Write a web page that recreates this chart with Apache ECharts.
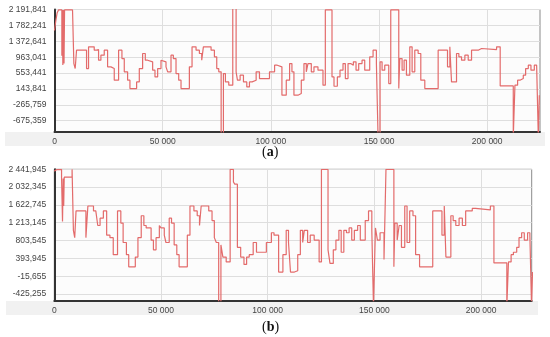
<!DOCTYPE html>
<html>
<head>
<meta charset="utf-8">
<script src="https://cdn.jsdelivr.net/npm/echarts@6/dist/echarts.min.js"></script>
<style>
html,body{margin:0;padding:0;background:#fff;}
#c{width:550px;height:337px;}
</style>
</head>
<body>
<div id="c"></div>
<script>
// shared change points (x) of the step signal
const xs = [0,600,1200,1852,3400,3650,3850,4150,4400,4650,8332,8949,9567,10184,14813,15739,18362,19442,20368,21448,22991,24534,26077,27620,29626,31169,32249,33792,34872,37958,39192,40735,41970,43050,45364,46444,47679,49222,49993,51536,52308,53851,54931,56165,57400,58480,62337,63572,65423,66966,68046,68818,72367,73910,74990,75916,77026,78076,79002,80545,82396,83939,84556,85791,87334,88877,90111,91346,93197,94740,96283,99369,101721,102955,105116,107122,108664,109744,110670,112522,114065,115299,116380,117151,118694,119928,121780,124095,125175,128261,129187,130730,131963,133352,134432,135667,136901,138136,139370,140604,142147,143382,145696,147240,148782,149554,150480,151405,152640,154491,155417,159120,159583,160663,161589,162669,164212,165292,166527,168070,169304,171156,177328,181648,182728,183500,185815,186895,188129,189672,191215,192758,195844,197387,204331,206000,212046,212817,214051,215132,216675,217755,218989,220223,221766,222846,223618,224081];
// panel (a) levels
const valuesA = [1650,1900,2100,2180,1000,2180,760,2180,800,2180,2130,799,670,1143,670,1229,1143,1160,885,1014,1143,713,670,369,1143,928,584,369,154,326,670,1057,885,842,627,455,670,885,842,713,584,1014,928,541,369,154,713,1229,1143,1057,885,1229,1143,971,670,584,-1100,541,326,240,2300,584,369,498,326,197,326,369,584,412,412,584,756,713,-18,369,799,584,-18,25,369,799,584,799,584,713,627,240,2180,455,214,455,627,799,412,799,756,842,627,799,885,627,971,1143,799,-1100,842,627,756,283,2180,154,928,627,885,498,1229,584,1143,1057,369,154,1143,713,1229,326,1057,971,885,1014,885,1143,1186,1160,1229,223,-1100,240,369,412,498,670,756,627,756,713,-1100,-18];
// panel (b) levels
const valuesB = [2400,2435,2440,2440,2250,2240,1240,2230,1600,2260,2440,1038,871,1486,871,1598,1486,1508,1150,1318,1486,927,871,480,1486,1206,759,480,200,424,871,1374,1150,1094,815,591,871,1150,1094,927,759,1318,1206,703,480,200,927,1598,1486,1374,1150,1598,1486,1262,871,759,-700,703,424,312,2440,2150,2100,647,424,256,424,480,759,535,535,759,983,927,80,480,1038,759,80,110,480,1038,759,1038,759,927,815,312,2440,591,278,591,815,1038,535,1038,983,1094,815,1038,1150,815,1262,1486,1038,-700,1094,815,983,368,2440,200,1206,815,1150,647,1598,759,1486,1374,480,200,1486,927,1598,424,1374,1262,1150,1318,1150,1486,1542,1508,1598,290,-700,312,480,535,647,871,983,815,983,927,-700,80];
const yTicksA = [-675.359,-265.759,143.841,553.441,963.041,1372.641,1782.241,2191.841];
const yTicksB = [-425.255,-15.655,393.945,803.545,1213.145,1622.745,2032.345,2441.945];
const xTicks = [0,50000,100000,150000,200000];

function fmtY(v){
  const s = Math.abs(v).toFixed(3);
  const parts = s.split('.');
  const ip = parts[0].replace(/\B(?=(\d{3})+(?!\d))/g,' ');
  return (v<0?'-':'') + ip + ',' + parts[1];
}
function fmtX(v){
  return String(Math.round(v)).replace(/\B(?=(\d{3})+(?!\d))/g,' ');
}
const pairsA = xs.map((x,i)=>[x,valuesA[i]]);
const pairsB = xs.map((x,i)=>[x,valuesB[i]]);

const labelStyle = {color:'#444', fontSize:8.5, fontFamily:'Liberation Sans, Arial, sans-serif'};
function xAxis(idx,max){
  return {
    type:'value', gridIndex:idx, min:0, max:max,
    axisLine:{show:true, onZero:false, lineStyle:{color:'#333', width:2}},
    axisTick:{show:false, customValues:xTicks},
    axisLabel:Object.assign({customValues:xTicks, formatter:fmtX, margin:5}, labelStyle),
    splitLine:{show:true, lineStyle:{color:'#dedede', width:1}}
  };
}
function yAxis(idx,min,max,ticks){
  return {
    type:'value', gridIndex:idx, min:min, max:max,
    axisLine:{show:true, lineStyle:{color:'#333', width:2}},
    axisTick:{show:false, customValues:ticks},
    axisLabel:Object.assign({customValues:ticks, formatter:fmtY, margin:8}, labelStyle),
    splitLine:{show:true, lineStyle:{color:'#dedede', width:1}}
  };
}

const chart = echarts.init(document.getElementById('c'), null, {renderer:'canvas'});
chart.setOption({
  animation:false,
  backgroundColor:'#ffffff',
  graphic:[
    {type:'rect', z:-10, shape:{x:5,y:132,width:540,height:14}, style:{fill:'#f1f1f1'}},
    {type:'rect', z:-10, shape:{x:6,y:301,width:532,height:14}, style:{fill:'#f1f1f1'}},
    {type:'text', left:262, top:145, style:{rich:{p:{fontSize:14,fontFamily:'Liberation Serif, serif',fill:'#111'},b:{fontSize:14,fontWeight:'bold',fontFamily:'Liberation Serif, serif',fill:'#111'}}, text:'{p|(}{b|a}{p|)}'}},
    {type:'text', left:262, top:320, style:{rich:{p:{fontSize:14,fontFamily:'Liberation Serif, serif',fill:'#111'},b:{fontSize:14,fontWeight:'bold',fontFamily:'Liberation Serif, serif',fill:'#111'}}, text:'{p|(}{b|b}{p|)}'}}
  ],
  grid:[
    {left:54.5, top:9.5, width:485.5, height:122.5, show:true, backgroundColor:'#fcfcfc', borderColor:'#8a8a8a', borderWidth:1},
    {left:54.3, top:169.3, width:477.4, height:131.4, show:true, backgroundColor:'#fcfcfc', borderColor:'#8a8a8a', borderWidth:1}
  ],
  xAxis:[xAxis(0,224400), xAxis(1,223700)],
  yAxis:[yAxis(0,-966,2191.841,yTicksA), yAxis(1,-579,2441.945,yTicksB)],
  series:[
    {type:'line', xAxisIndex:0, yAxisIndex:0, data:pairsA, step:'end', symbol:'none', clip:true,
     lineStyle:{color:'#e36b6b', width:1.2}},
    {type:'line', xAxisIndex:1, yAxisIndex:1, data:pairsB, step:'end', symbol:'none', clip:true,
     lineStyle:{color:'#e36b6b', width:1.2}}
  ]
});
</script>
</body>
</html>
